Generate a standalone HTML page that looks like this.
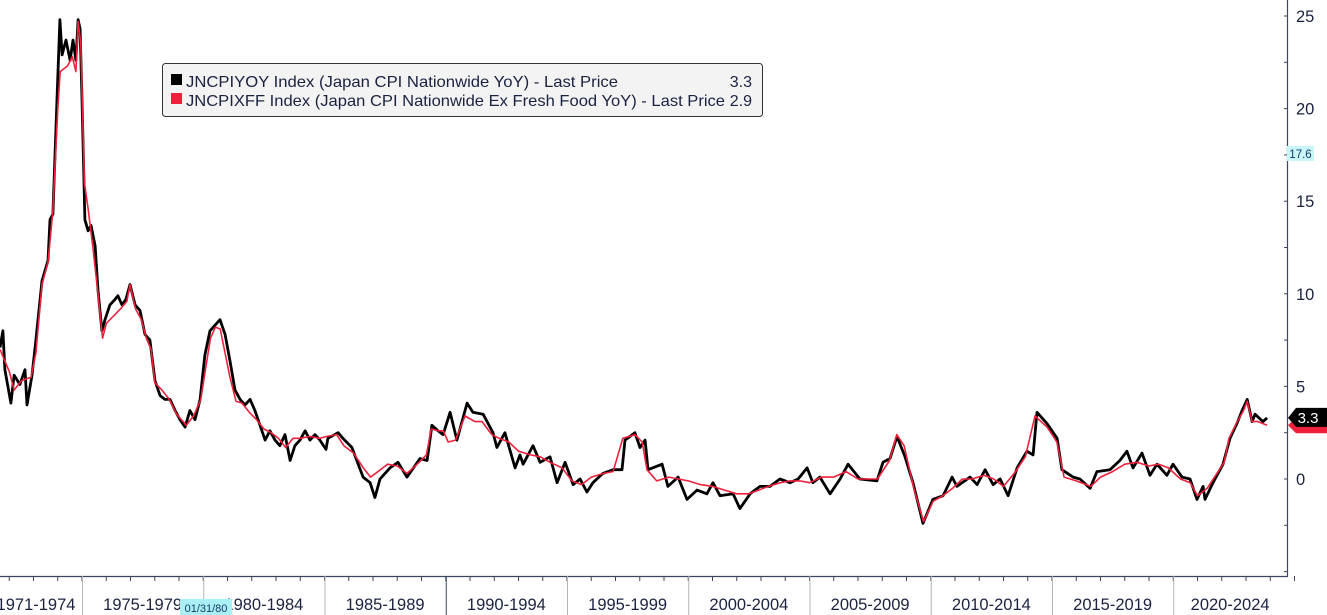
<!DOCTYPE html>
<html><head><meta charset="utf-8"><style>
html,body{margin:0;padding:0;background:#fff;}
body{width:1327px;height:615px;overflow:hidden;position:relative;font-family:"Liberation Sans",sans-serif;}
svg{position:absolute;left:0;top:0;}
</style></head><body>
<svg id="chart" width="1327" height="615" viewBox="0 0 1327 615" xmlns="http://www.w3.org/2000/svg">
<g id="axes"></g>
<g id="series"></g>
<g>
<rect x="162.5" y="63.5" width="600" height="53" rx="3" fill="#f3f3f3" stroke="#333" stroke-width="1"/>
<rect x="171" y="74" width="11" height="11" fill="#000"/>
<text x="186" y="87" font-size="16" fill="#1a2340" textLength="432" lengthAdjust="spacingAndGlyphs">JNCPIYOY Index (Japan CPI Nationwide YoY) - Last Price</text>
<text x="752" y="87" font-size="16" fill="#1a2340" text-anchor="end">3.3</text>
<rect x="171" y="93" width="11" height="11" fill="#f0203c"/>
<text x="186" y="106" font-size="16" fill="#1a2340" textLength="539" lengthAdjust="spacingAndGlyphs">JNCPIXFF Index (Japan CPI Nationwide Ex Fresh Food YoY) - Last Price</text>
<text x="752" y="106" font-size="16" fill="#1a2340" text-anchor="end">2.9</text>
</g>
</svg>
<script>
const yTicks=[0,5,10,15,20,25];
const periodLabels=["1971-1974","1975-1979","1980-1984","1985-1989","1990-1994","1995-1999","2000-2004","2005-2009","2010-2014","2015-2019","2020-2024"];
const periodStarts=[1971,1975,1980,1985,1990,1995,2000,2005,2010,2015,2020,2025];
const headlineDates=[1971.62,1971.74,1971.82,1972.07,1972.2,1972.44,1972.65,1972.73,1972.94,1973.1,1973.35,1973.6,1973.68,1973.8,1973.97,1974.09,1974.18,1974.34,1974.51,1974.63,1974.75,1974.84,1974.92,1975.0,1975.12,1975.25,1975.37,1975.54,1975.66,1975.82,1975.95,1976.15,1976.36,1976.48,1976.65,1976.81,1976.98,1977.19,1977.39,1977.6,1977.8,1978.01,1978.22,1978.42,1978.63,1978.84,1979.04,1979.25,1979.45,1979.66,1979.87,1980.07,1980.28,1980.48,1980.69,1980.9,1981.1,1981.31,1981.52,1981.72,1981.93,1982.13,1982.34,1982.55,1982.75,1982.96,1983.16,1983.37,1983.58,1983.78,1983.99,1984.2,1984.4,1984.61,1984.81,1985.06,1985.14,1985.56,1985.76,1986.13,1986.59,1986.88,1987.08,1987.29,1987.7,1988.03,1988.4,1988.94,1989.23,1989.43,1989.68,1989.89,1990.18,1990.46,1990.88,1991.12,1991.54,1991.95,1992.11,1992.44,1992.86,1993.06,1993.19,1993.6,1993.89,1994.3,1994.59,1994.92,1995.25,1995.54,1995.82,1996.07,1996.48,1996.9,1997.27,1997.39,1997.8,1998.01,1998.22,1998.34,1998.92,1999.16,1999.58,1999.95,2000.36,2000.77,2001.02,2001.31,2001.85,2002.13,2002.55,2002.96,2003.37,2003.78,2004.2,2004.53,2004.9,2005.14,2005.43,2005.85,2006.26,2006.59,2007.08,2007.78,2008.03,2008.32,2008.61,2008.94,2009.27,2009.68,2010.09,2010.51,2010.88,2011.08,2011.62,2011.91,2012.24,2012.57,2012.86,2013.19,2013.56,2013.97,2014.22,2014.38,2014.79,2015.21,2015.41,2015.87,2016.15,2016.57,2016.85,2017.39,2017.8,2018.09,2018.34,2018.71,2019.04,2019.33,2019.74,2019.99,2020.36,2020.69,2020.98,2021.23,2021.31,2021.64,2022.05,2022.34,2022.63,2022.84,2023.05,2023.25,2023.37,2023.7,2023.87];
const headlineValues=[7.1,8,5.9,4.1,5.6,5.1,5.9,4.0,5.6,7.5,10.7,11.8,14,14.3,20.5,24.8,22.9,23.7,22.6,23.7,22.6,24.8,24.3,20.5,14,13.4,13.7,12.6,10.2,8,8.6,9.4,9.7,9.9,9.4,9.7,10.5,9.4,9.1,7.8,7.5,5.3,4.5,4.3,4.3,3.7,3.2,2.8,3.7,3.2,4.3,6.7,8,8.3,8.6,7.8,6.4,4.8,4.3,4.0,4.3,3.7,2.9,2.1,2.6,2.1,1.8,2.4,1.0,1.8,2.1,2.6,2.1,2.4,2.1,1.6,2.2,2.5,2.2,1.7,0.1,-0.2,-1.0,0,0.6,0.9,0.1,1.1,1.0,2.9,2.6,2.4,3.6,2.1,4.1,3.6,3.5,2.5,1.7,2.5,0.6,1.3,0.8,1.8,0.9,1.2,-0.2,0.9,-0.3,0,-0.7,-0.2,0.3,0.5,0.5,2.1,2.5,1.7,2.1,0.5,0.8,-0.4,0.1,-1.1,-0.6,-0.8,-0.2,-0.9,-0.8,-1.6,-0.8,-0.4,-0.4,0,-0.2,0,0.6,-0.2,0.1,-0.8,0,0.8,0,-0.1,0.9,1.1,2.3,1.2,-0.2,-2.4,-1.1,-0.9,0.1,-0.4,0.1,-0.3,0.5,-0.3,0,-0.9,0.6,1.5,1.3,3.6,3.0,2.2,0.5,0.1,0,-0.5,0.4,0.5,1.0,1.5,0.6,1.4,0.2,0.8,0.2,0.8,0.1,0,-1.1,-0.4,-1.1,-0.2,0.8,2.2,3.0,3.7,4.3,3.1,3.5,3.1,3.3];
const coreDates=[1971.62,1972.0,1972.2,1972.5,1972.9,1973.1,1973.35,1973.6,1973.8,1974.0,1974.1,1974.4,1974.6,1974.75,1974.84,1974.95,1975.1,1975.25,1975.45,1975.66,1975.85,1976.0,1976.3,1976.6,1976.85,1976.98,1977.2,1977.45,1977.65,1977.85,1978.0,1978.3,1978.6,1978.9,1979.1,1979.3,1979.6,1979.9,1980.1,1980.3,1980.5,1980.7,1980.9,1981.1,1981.35,1981.6,1981.9,1982.2,1982.5,1982.8,1983.1,1983.4,1983.7,1984.0,1984.4,1984.8,1985.1,1985.5,1985.8,1986.2,1986.6,1986.9,1987.2,1987.6,1988.0,1988.4,1988.9,1989.2,1989.4,1989.7,1989.9,1990.1,1990.4,1990.8,1991.2,1991.5,1991.9,1992.2,1992.6,1993.0,1993.5,1993.9,1994.3,1994.8,1995.2,1995.6,1996.0,1996.5,1996.9,1997.3,1997.8,1998.1,1998.3,1998.7,1999.2,1999.6,2000.0,2000.5,2001.0,2001.5,2002.0,2002.5,2002.9,2003.3,2003.8,2004.2,2004.6,2005.0,2005.5,2006.0,2006.5,2007.0,2007.8,2008.3,2008.6,2008.9,2009.3,2009.7,2010.1,2010.5,2010.9,2011.3,2011.7,2012.2,2012.6,2013.0,2013.5,2013.9,2014.3,2014.8,2015.2,2015.5,2016.0,2016.6,2017.0,2017.5,2018.0,2018.5,2019.0,2019.4,2019.8,2020.3,2020.7,2021.0,2021.4,2021.8,2022.1,2022.3,2022.6,2022.9,2023.05,2023.25,2023.5,2023.87];
const coreValues=[7.0,5.8,4.8,5.3,5.5,6.8,10.5,11.7,14.5,20.0,22.0,22.3,22.8,22.0,24.7,23.5,16,14.6,12.5,10.0,7.6,8.4,8.8,9.2,9.6,10.5,9.2,8.6,7.6,7.0,5.2,4.8,4.3,3.5,3.2,2.9,3.4,4.3,6.0,7.6,8.2,8.1,6.8,5.5,4.2,4.1,3.6,3.2,2.7,2.5,2.2,1.7,2.2,2.2,2.3,2.2,2.3,2.4,1.8,1.4,0.6,0.1,0.4,0.8,0.7,0.3,0.9,1.3,2.7,2.6,2.6,2.0,2.1,3.4,3.1,3.1,2.4,2.2,2.0,1.5,1.3,1.2,0.9,0.6,-0.1,-0.3,0.1,0.3,0.4,2.2,2.4,2.0,0.5,-0.1,0.1,0.0,-0.1,-0.3,-0.4,-0.6,-0.8,-0.8,-0.6,-0.4,-0.2,-0.1,-0.1,-0.2,0.1,0.1,0.4,0,0,1.0,2.4,1.8,-0.5,-2.3,-1.2,-0.9,-0.5,0.0,0.0,0.2,0.0,-0.4,0.4,1.2,3.4,2.8,2.0,0.1,-0.1,-0.4,0.1,0.4,0.8,0.9,0.7,0.8,0.6,0.0,-0.2,-0.9,-0.5,0.3,0.9,2.2,3.0,3.7,4.2,3.1,3.1,2.9];

const NS="http://www.w3.org/2000/svg";
const yScale=v=>479-v*18.52;
const xScale=t=>82+(t-1975)*24.25;
const axes=document.getElementById('axes');
const series=document.getElementById('series');
function mk(tag,attrs,parent){const e=document.createElementNS(NS,tag);for(const k in attrs)e.setAttribute(k,attrs[k]);parent.appendChild(e);return e;}

let ax=mk('line',{x1:1287.5,y1:0,x2:1287.5,y2:576,stroke:'#3c4660','stroke-width':1.2},axes);


for(let v=-5;v<=25;v+=2.5){
  const tk=mk('line',{x1:1284,y1:yScale(v),x2:1288,y2:yScale(v),stroke:'#3c4660','stroke-width':1},axes);
  
  
}
yTicks.forEach(v=>{
  const t=mk('text',{x:1296,y:yScale(v)+6,'font-size':16.5,fill:'#1a2340'},axes);
  t.textContent=String(v);
  
  
});
let bx=mk('line',{x1:0,y1:576.5,x2:1288,y2:576.5,stroke:'#3c4660','stroke-width':1.2},axes);


for(let y=1971;y<=2025;y++){
  const tk=mk('line',{x1:xScale(y),y1:576,x2:xScale(y),y2:581,stroke:'#3c4660','stroke-width':1},axes);
  
  
}
periodStarts.forEach((y,i)=>{
  if(i>0&&i<periodStarts.length-1){
    const s=mk('line',{x1:xScale(y)+0.5,y1:576,x2:xScale(y)+0.5,y2:615,stroke:i==4?'#3c4660':'#b4b4b4','stroke-width':1},axes);
    
    
  }
});
periodLabels.forEach((l,i)=>{
  const b=xScale(periodStarts[i+1]);
  const t=mk('text',{x:(i===0? 36 : (xScale(periodStarts[i])+Math.min(b,1287))/2),y:610,'font-size':16.5,fill:'#1a2340','text-anchor':'middle'},axes);
  t.textContent=l;
  
  
});
const dm=mk('rect',{x:180,y:599,width:52,height:16,fill:'#a8f0f4'},axes);


const dt=mk('text',{x:206,y:612,'font-size':11,fill:'#1a3a6a','text-anchor':'middle'},axes);
dt.textContent='01/31/80';


const cm=mk('rect',{x:1287,y:146,width:27,height:15,fill:'#c8f6f8'},axes);


const ct=mk('text',{x:1300.5,y:158,'font-size':11.5,fill:'#1a3a6a','text-anchor':'middle'},axes);
ct.textContent='17.6';



function path(d,v){return d.map((t,i)=>(i?'L':'M')+xScale(t).toFixed(1)+' '+yScale(v[i]).toFixed(1)).join(' ');}
const hp=mk('path',{d:path(headlineDates,headlineValues),fill:'none',stroke:'#000','stroke-width':2.8,'stroke-linejoin':'round'},series);


const cp=mk('path',{d:path(coreDates,coreValues),fill:'none',stroke:'#f0203c','stroke-width':1.6,'stroke-linejoin':'round'},series);



const coreLast=coreValues[coreValues.length-1], headLast=headlineValues[headlineValues.length-1];
const rt=mk('path',{d:`M1288 ${yScale(coreLast)} L1296 ${yScale(coreLast)-8} L1327 ${yScale(coreLast)-8} L1327 ${yScale(coreLast)+8} L1296 ${yScale(coreLast)+8} Z`,fill:'#f0203c'},series);


const bt=mk('path',{d:`M1288 ${yScale(headLast)} L1296 ${yScale(headLast)-10} L1327 ${yScale(headLast)-10} L1327 ${yScale(headLast)+9} L1296 ${yScale(headLast)+9} Z`,fill:'#000'},series);


const btt=mk('text',{x:1308,y:yScale(headLast)+5,'font-size':15,fill:'#fff','text-anchor':'middle'},series);
btt.textContent=headLast.toFixed(1);


</script>
</body></html>
